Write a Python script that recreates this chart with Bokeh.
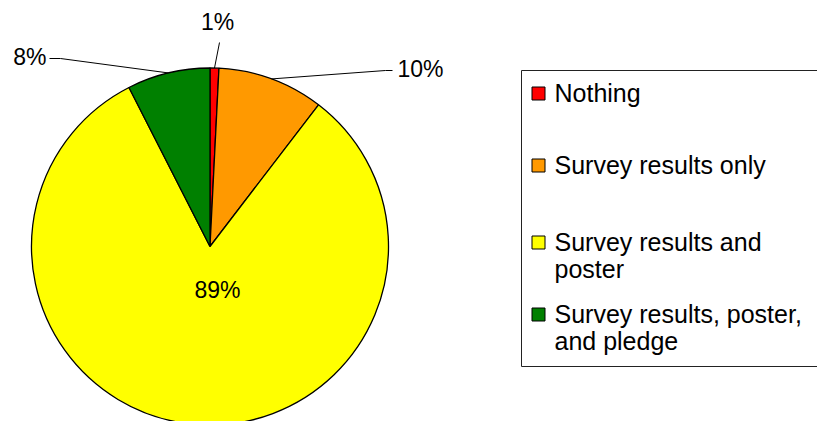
import math
import textwrap
from bokeh.plotting import figure
from bokeh.models import Range1d
from bokeh.embed import file_html
from bokeh.resources import INLINE
from bokeh.core.properties import value

# ---- data ----
categories = ["Nothing", "Survey results only", "Survey results and poster",
              "Survey results, poster, and pledge"]
values = [0.8, 9.6, 82.1, 7.5]          # slice sizes as drawn (percent of circle)
pct_labels = ["1%", "10%", "89%", "8%"]  # label texts as printed on the chart
colors = ["#FF0000", "#FF9900", "#FFFF00", "#008000"]

# ---- layout (pixel space, y measured from top) ----
W, H = 817, 421
FONT = "Liberation Sans"


def fy(ypx):
    return H - ypx


cx, cy, R = 209.5, fy(246), 178.5

p = figure(width=W, height=H, output_backend="svg", toolbar_location=None,
           x_range=Range1d(0, W), y_range=Range1d(0, H),
           x_axis_location=None, y_axis_location=None,
           min_border=0, outline_line_color=None)
p.grid.visible = False
p.background_fill_color = "white"
p.border_fill_color = "white"

total = sum(values)
cum = 0.0
starts, ends, mids = [], [], []
for v in values:
    a0 = math.pi / 2 - 2 * math.pi * cum / total
    cum += v
    a1 = math.pi / 2 - 2 * math.pi * cum / total
    starts.append(a0)
    ends.append(a1)
    mids.append((a0 + a1) / 2)

p.wedge(x=[cx] * len(values), y=[cy] * len(values), radius=R,
        start_angle=starts, end_angle=ends, direction="clock",
        fill_color=colors, line_color="black", line_width=1.3)

# ---- labels with leaders ----
label_pos = [
    dict(x=217, y=21, align="center", elbow=[(219, 42)]),
    dict(x=397, y=68, align="left", elbow=[(385, 70), (392, 70)]),
    dict(x=217, y=289, align="center", elbow=None),
    dict(x=46, y=56, align="right", elbow=[(60, 58), (49, 58)]),
]
for i, lp in enumerate(label_pos):
    if lp["elbow"] is not None:
        sx = cx + R * math.cos(mids[i])
        sy = cy + R * math.sin(mids[i])
        xs = [sx] + [e[0] for e in lp["elbow"]]
        ys = [sy] + [fy(e[1]) for e in lp["elbow"]]
        p.line(xs, ys, line_color="black", line_width=1)
    p.text(x=[lp["x"]], y=[fy(lp["y"])], text=[pct_labels[i]],
           text_font=value(FONT), text_font_size="23px",
           text_align=lp["align"], text_baseline="middle", text_color="black")

# ---- legend ----
p.quad(left=[521], right=[W + 20], top=[fy(70)], bottom=[fy(366)],
       fill_color="white", line_color="#222222", line_width=1)
item_y = [93, 165, 242, 314]
line_gap = 27
for i, cat in enumerate(categories):
    p.rect(x=[538], y=[fy(item_y[i])], width=13, height=13,
           fill_color=colors[i], line_color="black", line_width=1)
    for j, ln in enumerate(textwrap.wrap(cat, 23)):
        p.text(x=[554], y=[fy(item_y[i] - 1 + j * line_gap)], text=[ln],
               text_font=value(FONT), text_font_size="25px",
               text_align="left", text_baseline="middle", text_color="black")

open("out.html", "w").write(file_html(p, INLINE))
